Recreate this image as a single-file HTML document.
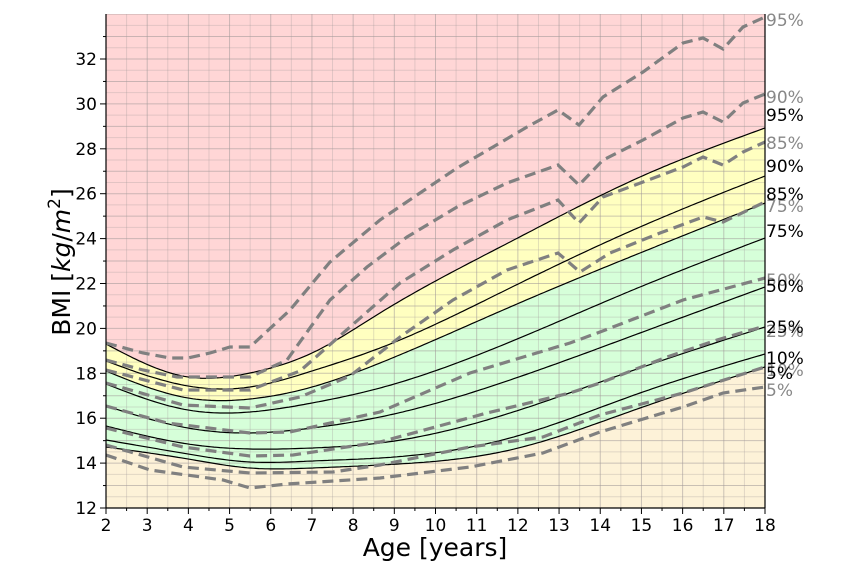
<!DOCTYPE html>
<html><head><meta charset="utf-8"><style>
html,body{margin:0;padding:0;background:#fff;width:850px;height:580px;overflow:hidden}
text{font-family:"DejaVu Sans","Liberation Sans",sans-serif}
</style></head><body>
<svg id="s" width="850" height="580" xmlns="http://www.w3.org/2000/svg">
<defs><clipPath id="c"><rect x="106" y="14" width="659" height="494"/></clipPath></defs>
<g id="plot" clip-path="url(#c)"></g>
<g id="fg"></g>
</svg>
<script>
const NS="http://www.w3.org/2000/svg";
const P=document.getElementById('plot'),F=document.getElementById('fg');
function el(p,t,a,txt){const e=document.createElementNS(NS,t);for(const k in a)e.setAttribute(k,a[k]);if(txt!==undefined)e.textContent=txt;p.appendChild(e);return e;}
const X0=106,X1=765,Y0=508,sx=(X1-X0)/16,sy=22.45;
const xs=[106,188,250,312,380,510,640,765];
const S={
95:[344,377,373,353,313,242,177,128],
90:[361,386,387,371,348,288,227,176],
85:[371,398,399,387,363,307,253,203],
75:[384,410,412,403,388,342,287,238],
50:[406,428,433,428,417,380,333,287],
25:[426,444,449,448,443,413,368,327],
10:[440,454,462,461,458,438,393,354],
5:[447,459,468,468,465,450,408,367]};
function spline(x,y){const n=x.length;const h=[],al=[],l=[1],mu=[0],z=[0],c=new Array(n).fill(0),b=[],d=[];
for(let i=0;i<n-1;i++)h.push(x[i+1]-x[i]);
for(let i=1;i<n-1;i++)al[i]=3/h[i]*(y[i+1]-y[i])-3/h[i-1]*(y[i]-y[i-1]);
for(let i=1;i<n-1;i++){l[i]=2*(x[i+1]-x[i-1])-h[i-1]*mu[i-1];mu[i]=h[i]/l[i];z[i]=(al[i]-h[i-1]*z[i-1])/l[i];}
for(let j=n-2;j>=0;j--){c[j]=z[j]-mu[j]*c[j+1];b[j]=(y[j+1]-y[j])/h[j]-h[j]*(c[j+1]+2*c[j])/3;d[j]=(c[j+1]-c[j])/(3*h[j]);}
const out=[];for(let xx=x[0];xx<=x[n-1];xx+=3){let j=0;while(j<n-2&&xx>x[j+1])j++;const t=xx-x[j];out.push([xx,y[j]+b[j]*t+c[j]*t*t+d[j]*t*t*t]);}
out.push([x[n-1],y[n-1]]);return out;}
const C={};for(const k in S)C[k]=spline(xs,S[k]);
const ps=a=>a.map(p=>p[0].toFixed(1)+','+p[1].toFixed(1)).join(' ');
el(P,'rect',{x:106,y:14,width:659,height:494,fill:'#ffd6d6'});
el(P,'polygon',{points:ps(C[95])+' 765,508 106,508',fill:'#ffffc0'});
el(P,'polygon',{points:ps(C[85])+' 765,508 106,508',fill:'#d6ffd9'});
el(P,'polygon',{points:ps(C[5])+' 765,508 106,508',fill:'#fdf2d8'});
for(let i=0;i<=32;i++){const x=X0+i*sx/2;el(P,'line',{x1:x,x2:x,y1:14,y2:508,stroke:'#a09898','stroke-width':1,opacity:i%2?0.3:0.55});}
for(let v=12;v<=34;v+=0.5){const y=Y0-(v-12)*sy;el(P,'line',{x1:106,x2:765,y1:y,y2:y,stroke:'#a09898','stroke-width':1,opacity:(v%1)?0.3:0.55});}
for(const k in C)el(P,'polyline',{points:ps(C[k]),fill:'none',stroke:'#000','stroke-width':1.2});
const D={
95:[[106,343],[143,353],[170,358],[188,358],[210,353],[230,347],[250,347],[290,310],[330,262],[380,220],[420,193],[457,168],[493,147],[527,127],[558,110],[579,125],[603,97],[643,72],[683,43],[703,38],[723,49],[743,27],[765,17]],
90:[[106,360],[143,370],[177,377],[250,377],[287,360],[330,300],[367,267],[407,237],[457,207],[507,183],[558,165],[579,185],[603,160],[643,140],[683,118],[703,112],[723,122],[743,103],[765,94]],
85:[[106,370],[183,390],[250,390],[300,371],[350,327],[400,283],[453,250],[507,220],[558,200],[579,223],[603,197],[643,182],[683,167],[703,157],[723,165],[743,152],[765,142]],
75:[[106,383],[183,405],[250,408],[300,397],[350,376],[400,337],[453,300],[507,270],[558,253],[580,272],[610,253],[660,233],[703,217],[723,222],[765,202]],
50:[[106,406],[167,423],[250,433],[290,432],[380,412],[470,373],[570,343],[600,332],[683,300],[765,278]],
25:[[106,428],[183,447],[250,456],[293,455],[380,442],[487,413],[570,393],[600,383],[667,357],[717,340],[765,326]],
10:[[106,445],[183,467],[250,473],[333,472],[380,465],[470,447],[543,437],[600,415],[683,393],[765,367]],
5:[[106,455],[150,470],[223,480],[250,488],[287,484],[380,478],[470,467],[543,453],[600,432],[683,407],[723,393],[765,387]]};
for(const k in D)el(P,'polyline',{points:ps(D[k]),fill:'none',stroke:'#808080','stroke-width':3.2,'stroke-dasharray':'11,6'});
el(F,'line',{x1:106,x2:106,y1:14,y2:508,stroke:'#000','stroke-width':1.2});
el(F,'line',{x1:765,x2:765,y1:14,y2:508,stroke:'#000','stroke-width':1.2});
el(F,'line',{x1:106,x2:765,y1:508,y2:508,stroke:'#000','stroke-width':1.2});
for(let i=0;i<=32;i++){const x=X0+i*sx/2;el(F,'line',{x1:x,x2:x,y1:508,y2:i%2?511:514,stroke:'#000','stroke-width':1});
if(i%2==0)el(F,'text',{x:x,y:531,'font-size':17,'text-anchor':'middle'},String(2+i/2));}
for(let v=12;v<=33;v++){const y=Y0-(v-12)*sy;el(F,'line',{x1:106,x2:v%2?103:100,y1:y,y2:y,stroke:'#000','stroke-width':1});
if(v%2==0)el(F,'text',{x:97,y:y+6,'font-size':17,'text-anchor':'end'},String(v));}
el(F,'text',{x:435,y:556,'font-size':25,'text-anchor':'middle'},'Age [years]');
const yl=el(F,'text',{x:0,y:0,'font-size':25,'text-anchor':'middle',transform:'translate(70,262) rotate(-90)'});
yl.innerHTML='BMI  [<tspan font-style="italic">kg</tspan>/<tspan font-style="italic">m</tspan><tspan font-size="17" dy="-10">2</tspan><tspan dy="10">]</tspan>';
const LG={95:20,90:97,85:143,75:206,50:280,25:331,10:370,5:390};
const LB={95:115,90:166,85:194,75:231,50:286,25:327,10:358,5:373};
for(const k in LG)el(F,'text',{x:766,y:LG[k]+6,'font-size':17,fill:'#888'},k+'%');
for(const k in LB)el(F,'text',{x:766,y:LB[k]+6,'font-size':17,fill:'#000'},k+'%');
</script>
</body></html>
